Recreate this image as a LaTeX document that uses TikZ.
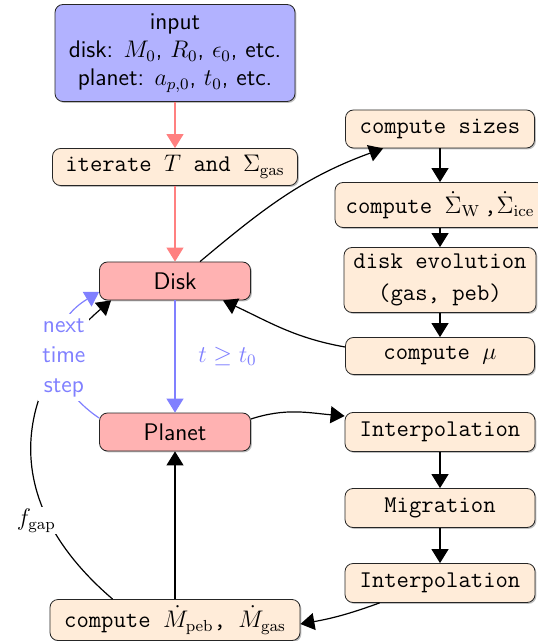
\documentclass[tikz,border=0pt]{standalone}
\usepackage{amsmath}
\usetikzlibrary{arrows.meta,shadows}
\begin{document}
\begin{tikzpicture}[x=0.5pt,y=0.5pt,
  box/.style={draw=black!85, rounded corners=4pt, font=\large, inner sep=2pt, align=center,
    drop shadow={shadow xshift=0.7pt, shadow yshift=-0.7pt, opacity=0.5}},
  code/.style={box, fill=orange!15, font=\large\ttfamily},
  mainbox/.style={box, fill=red!30, font=\large\sffamily, minimum width=75.5pt, minimum height=19pt},
  arr/.style={-{Triangle[length=7pt,width=8.5pt]}, line width=0.6pt},
]
\useasboundingbox (0,0) rectangle (537,-641);

% nodes
\node[box, fill=blue!30, font=\large\sffamily, minimum width=120pt, minimum height=48.5pt] (input) at (175,-53)
  {input\\disk: $M_0$, $R_0$, $\epsilon_0$, etc.\\planet: $a_{p,0}$, $t_0$, etc.};
\node[code, minimum width=122.5pt, minimum height=18.5pt] (iter) at (175,-167) {iterate $T$ and $\Sigma_{\rm gas}$};
\node[mainbox] (disk) at (175,-281) {Disk};
\node[mainbox] (planet) at (175,-432) {Planet};
\node[code, minimum width=125pt, minimum height=20.5pt] (mdot) at (175,-620) {compute $\dot M_{\rm peb}$, $\dot M_{\rm gas}$};

\node[code, minimum width=94.5pt, minimum height=19pt] (sizes) at (440,-129) {compute sizes};
\node[code, minimum width=105pt, minimum height=22.5pt] (sigma) at (440,-205) {compute $\dot\Sigma_{\rm W}$\,,$\dot\Sigma_{\rm ice}$};
\node[code, minimum width=96pt, minimum height=32.5pt] (evol) at (440,-280) {disk evolution\\[2pt](gas, peb)};
\node[code, minimum width=94.5pt, minimum height=18.5pt] (mu) at (440,-356) {compute $\mu$};
\node[code, minimum width=95pt, minimum height=19.5pt] (interpA) at (440,-432) {Interpolation};
\node[code, minimum width=95pt, minimum height=19.5pt] (migr) at (440,-508) {Migration};
\node[code, minimum width=95pt, minimum height=19.5pt] (interpB) at (440,-583) {Interpolation};

% connectors
\draw[arr, red!50] (input) -- (iter);
\draw[arr, red!50] (iter) -- (disk);
\draw[arr, blue!50] (disk) -- node[right, font=\large, xshift=8pt] {$t\geq t_0$} (planet);

\draw[arr] ([xshift=12.5pt]disk.north) to[out=40,in=200] ([xshift=19pt]sizes.south west);
\draw[arr] (sizes) -- (sigma);
\draw[arr] (sigma) -- (evol);
\draw[arr] (evol) -- (mu);
\draw[arr] ([yshift=4.5pt]mu.west) to[out=170,in=-25] ([xshift=24pt]disk.south);

\draw[arr] ([yshift=6.5pt]planet.east) to[out=18,in=175] ([yshift=8pt]interpA.west);
\draw[arr] (interpA) -- (migr);
\draw[arr] (migr) -- (interpB);
\draw[arr] ([xshift=17.5pt]interpB.south west) to[out=200,in=10] ([yshift=-2pt]mdot.east);
\draw[arr] (mdot) -- (planet);

\draw[arr] ([xshift=31.5pt]mdot.north west) .. controls +(-140,120) and +(-69,-58) .. ([xshift=6pt]disk.south west)
  node[pos=0.22, fill=white, font=\large, xshift=-6pt, inner sep=1pt] {$f_{\rm gap}$};

\draw[arr, blue!50] ([yshift=7pt]planet.west) .. controls +(-55,37) and +(-55,-33) .. ([yshift=-5.5pt]disk.west)
  node[pos=0.5, fill=white, text=blue!50, font=\large\sffamily, align=center, inner sep=2pt, xshift=3pt, yshift=-2pt] {next\\[1pt]time\\[1pt]step};
\end{tikzpicture}
\end{document}
